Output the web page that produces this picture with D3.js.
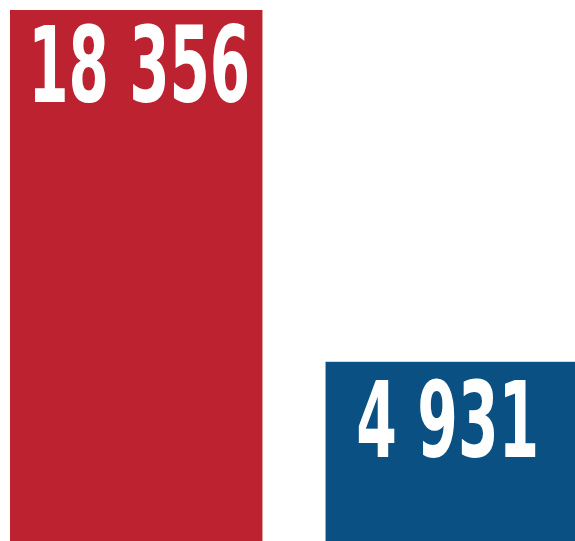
<!DOCTYPE html>
<html>
<head>
<meta charset="utf-8">
<script src="https://cdn.jsdelivr.net/npm/d3@7"></script>
<style>
  html, body { margin: 0; padding: 0; background: #fff; overflow: hidden; }
</style>
</head>
<body>
<script>
const categories = ["A", "B"];
const values = [18356, 4931];
const labels = ["18 356", "4 931"];
const colors = ["#BD2230", "#0B5083"];

const width = 575;
const height = 541;

const svg = d3
  .select("body")
  .append("svg")
  .attr("width", width)
  .attr("height", height);

// x: two bands, second one runs past the right edge
const xScale = d3
  .scaleBand()
  .domain(categories)
  .range([10, 578])
  .paddingInner(0.2)
  .paddingOuter(0);

// y: zero sits a bit above the bottom, bars run on to the edge
const yScale = d3
  .scaleLinear()
  .domain([0, d3.max(values)])
  .range([491, 10]);

const data = categories.map((c, i) => ({
  cat: c,
  value: values[i],
  label: labels[i],
  color: colors[i],
}));

svg
  .selectAll("rect")
  .data(data)
  .enter()
  .append("rect")
  .attr("x", (d) => xScale(d.cat))
  .attr("y", (d) => yScale(d.value))
  .attr("width", xScale.bandwidth())
  .attr("height", (d) => height - yScale(d.value))
  .attr("fill", (d) => d.color);

// value labels, stretched tall to look like a condensed display face
svg
  .selectAll("text.value")
  .data(data)
  .enter()
  .append("text")
  .attr("class", "value")
  .attr("transform", (d, i) => {
    const cx = xScale(d.cat) + xScale.bandwidth() / 2 + (i === 0 ? 3 : -4);
    const by = yScale(d.value) + (i === 0 ? 92 : 95);
    return `translate(${cx}, ${by}) scale(1, 1.64)`;
  })
  .attr("text-anchor", "middle")
  .attr("fill", "#fff")
  .attr("font-family", "'DejaVu Sans Condensed', 'Roboto', sans-serif")
  .attr("font-weight", "bold")
  .attr("font-size", 64)
  .attr("textLength", (d, i) => (i === 0 ? 222 : 183))
  .attr("lengthAdjust", "spacingAndGlyphs")
  .text((d) => d.label);
</script>
</body>
</html>
